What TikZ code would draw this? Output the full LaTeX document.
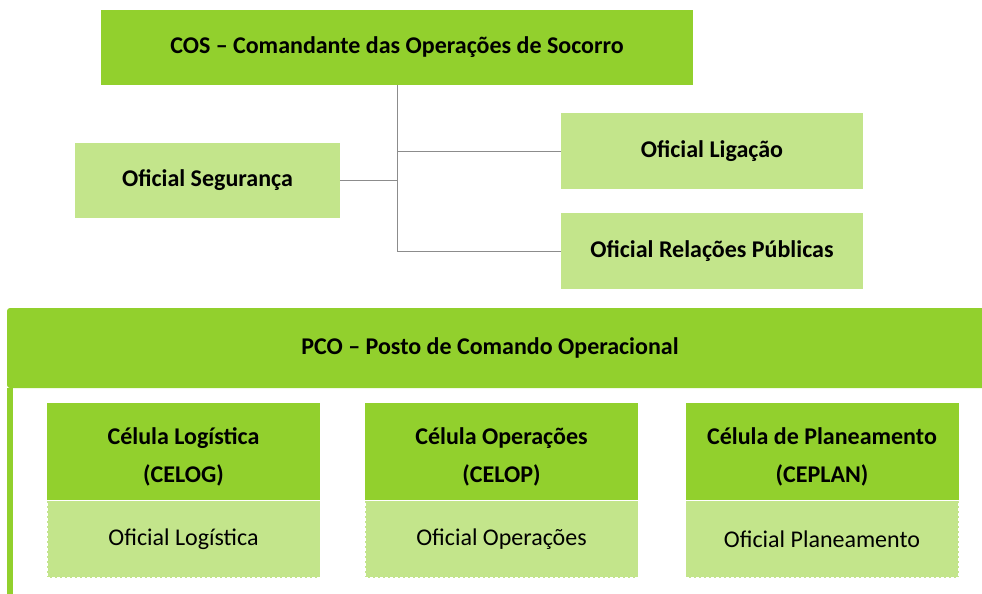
\documentclass[tikz,border=0pt]{standalone}
\usepackage{fontspec}
\setmainfont{Carlito}
\definecolor{verdeA}{RGB}{146,208,45}
\definecolor{verdeB}{RGB}{195,229,139}
\definecolor{cinza}{RGB}{140,140,140}
\newcommand{\celtopo}{\rule{0pt}{28pt}}
\begin{document}
\begin{tikzpicture}[x=1pt, y=-1pt, every node/.style={font=\fontsize{24}{28}\selectfont},
	caixaA/.style = {fill = verdeA, inner sep=0pt, font=\fontsize{24}{28}\selectfont\bfseries},
	caixaB/.style = {fill = verdeB, inner sep=0pt, font=\fontsize{24}{28}\selectfont\bfseries},
	oficial/.style = {fill = verdeB, draw = white, densely dashed, line width=0.6pt, inner sep=0pt, minimum width=273pt, minimum height=77pt},
	celula/.style = {caixaA, minimum width=273pt, minimum height=97pt, align=center, font=\fontsize{24}{38}\selectfont\bfseries},
	ligacao/.style = {draw = cinza, line width=1pt}]
	\useasboundingbox (0,0) rectangle (982,594);
	% topo
	\node[caixaA, minimum width=592pt, minimum height=75pt] (cos) at (397,47.5) {COS – Comandante das Operações de Socorro};
	\node[caixaB, minimum width=265pt, minimum height=75pt] (seg) at (207.5,180.5) {Oficial Segurança};
	\node[caixaB, minimum width=302pt, minimum height=76pt] (lig) at (712,151) {Oficial Ligação};
	\node[caixaB, minimum width=302pt, minimum height=76pt] (rp) at (712,251) {Oficial Relações Públicas};
	\draw[ligacao] (cos.south) |- (rp.west);
	\draw[ligacao] (seg.east) -- (seg.east -| cos.south);
	\draw[ligacao] (lig.west) -- (lig.west -| cos.south);
	% posto de comando
	\node[caixaA, minimum width=982pt, minimum height=80pt, rounded corners=3pt] (pco) at (498,348) {};
	\node[font=\fontsize{24}{28}\selectfont\bfseries] (pcot) at (490,348) {PCO – Posto de Comando Operacional};
	\fill[verdeA] (7,388) rectangle (13,594);
	% celulas
	\node[celula] (celog) at (183.5,451.5) {\celtopo Célula Logística\\(CELOG)};
	\node[celula] (celop) at (501.5,451.5) {\celtopo Célula Operações\\(CELOP)};
	\node[celula] (ceplan) at (822,451.5) {\celtopo Célula de Planeamento\\(CEPLAN)};
	\node[oficial, anchor=north] (olog) at (celog.south) {Oficial Logística};
	\node[oficial, anchor=north] (oop) at (celop.south) {Oficial Operações};
	\node[oficial, anchor=north] (opl) at (ceplan.south) {Oficial Planeamento};
\end{tikzpicture}
\end{document}
